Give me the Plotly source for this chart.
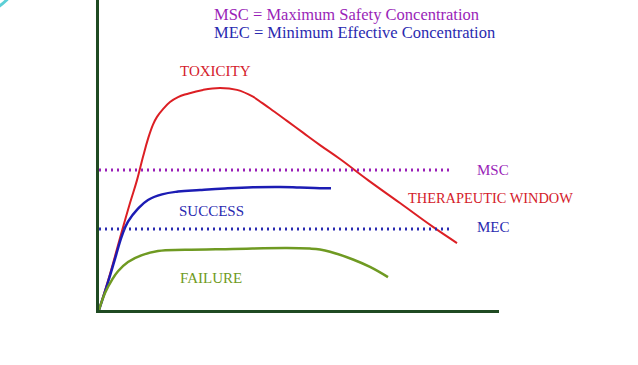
import plotly.graph_objects as go

# Time (h) and Cp values
tox_t = [0.0, 0.275, 0.525, 0.775, 0.95, 1.1, 1.225, 1.35, 1.45, 1.6, 1.775, 1.975, 2.2, 2.6, 3.025,
         3.45, 3.85, 4.075, 4.275, 4.7, 5.1, 5.525, 6.025, 6.725, 7.525, 8.35, 8.95]
tox_c = [0.0, 1.16, 2.32, 3.45, 4.19, 4.94, 5.52, 5.98, 6.23, 6.48, 6.71, 6.87, 6.97, 7.1, 7.16,
         7.1, 6.88, 6.68, 6.5, 6.1, 5.72, 5.32, 4.87, 4.19, 3.45, 2.68, 2.16]
suc_t = [0.0, 0.225, 0.4, 0.575, 0.725, 0.975, 1.225, 1.575, 1.975, 2.525, 3.15, 3.85,
         4.525, 5.025, 5.525, 5.8]
suc_c = [0.0, 0.9, 1.65, 2.4, 2.85, 3.27, 3.55, 3.73, 3.82, 3.87, 3.92, 3.96,
         3.97, 3.95, 3.93, 3.93]
fail_t = [0.0, 0.15, 0.325, 0.475, 0.725, 1.075, 1.475, 2.15, 3.35, 4.7, 5.275, 5.525, 5.775,
          6.35, 6.775, 7.225]
fail_c = [0.0, 0.55, 0.97, 1.25, 1.55, 1.77, 1.9, 1.94, 1.97, 2.0, 1.98, 1.95, 1.88,
          1.63, 1.39, 1.06]
msc_t = [0.0, 8.85]
msc_c = [4.52, 4.52]
mec_t = [0.0, 8.85]
mec_c = [2.61, 2.61]

FONT = "Liberation Serif"
fig = go.Figure()
fig.add_trace(go.Scatter(x=tox_t, y=tox_c, mode="lines",
                         line=dict(color="#dc1f24", width=2, shape="spline", smoothing=1.2), cliponaxis=False))
fig.add_trace(go.Scatter(x=suc_t, y=suc_c, mode="lines",
                         line=dict(color="#1c1cb4", width=2.5, shape="spline", smoothing=1.2), cliponaxis=False))
fig.add_trace(go.Scatter(x=fail_t, y=fail_c, mode="lines",
                         line=dict(color="#6f9a22", width=2.5, shape="spline", smoothing=1.2), cliponaxis=False))
fig.add_trace(go.Scatter(x=msc_t, y=msc_c, mode="lines",
                         line=dict(color="#9a1fb8", width=3, dash="2px,4px"), cliponaxis=False))
fig.add_trace(go.Scatter(x=mec_t, y=mec_c, mode="lines",
                         line=dict(color="#2a2ab0", width=3, dash="2px,4px"), cliponaxis=False))


def ann(text, x, y, color, size=15, xanchor="center"):
    fig.add_annotation(x=x, y=y, text=text, showarrow=False, xanchor=xanchor, yanchor="middle",
                       font=dict(family=FONT, size=size, color=color))


ann("MSC = Maximum Safety Concentration", 2.83, 9.52, "#9a1fb8", size=16.5, xanchor="left")
ann("MEC = Minimum Effective Concentration", 2.83, 8.94, "#2a2ab0", size=16.5, xanchor="left")
ann("TOXICITY", 2.9, 7.71, "#d4202a")
ann("SUCCESS", 2.8, 3.19, "#2a2ab0")
ann("FAILURE", 2.8, 1.03, "#6f9a22")
ann("MSC", 9.4, 4.52, "#9a1fb8", xanchor="left")
ann("MEC", 9.4, 2.68, "#2a2ab0", xanchor="left")
ann("THERAPEUTIC WINDOW", 7.68, 3.61, "#d4202a", size=14.4, xanchor="left")
ann("Cp", -1.78, 4.35, "#111111", size=16, xanchor="left")
ann("(\u03bcg/ml)", -1.78, 3.71, "#111111", size=16, xanchor="left")
ann("Time (h)", 4.88, -1.19, "#111111", size=16)

# corner decoration of the slide
fig.add_shape(type="circle", xref="paper", yref="paper",
              x0=(-56.5 - 99) / 400, x1=(16.5 - 99) / 400,
              y0=(310 + 61.5) / 310, y1=(310 - 11.5) / 310,
              line=dict(color="#5ccfd6", width=3))

fig.update_layout(
    width=638, height=365,
    margin=dict(l=99, r=139, t=0, b=55),
    paper_bgcolor="white", plot_bgcolor="white",
    showlegend=False,
    xaxis=dict(range=[0, 10], showgrid=False, zeroline=False, showticklabels=False, ticks="",
               showline=True, linecolor="#1f4a22", linewidth=2.5),
    yaxis=dict(range=[0, 10], showgrid=False, zeroline=False, showticklabels=False, ticks="",
               showline=True, linecolor="#1f4a22", linewidth=2.5),
)
fig.write_html("out.html", config={"displayModeBar": False},
               post_script="document.body.style.margin='0';")
